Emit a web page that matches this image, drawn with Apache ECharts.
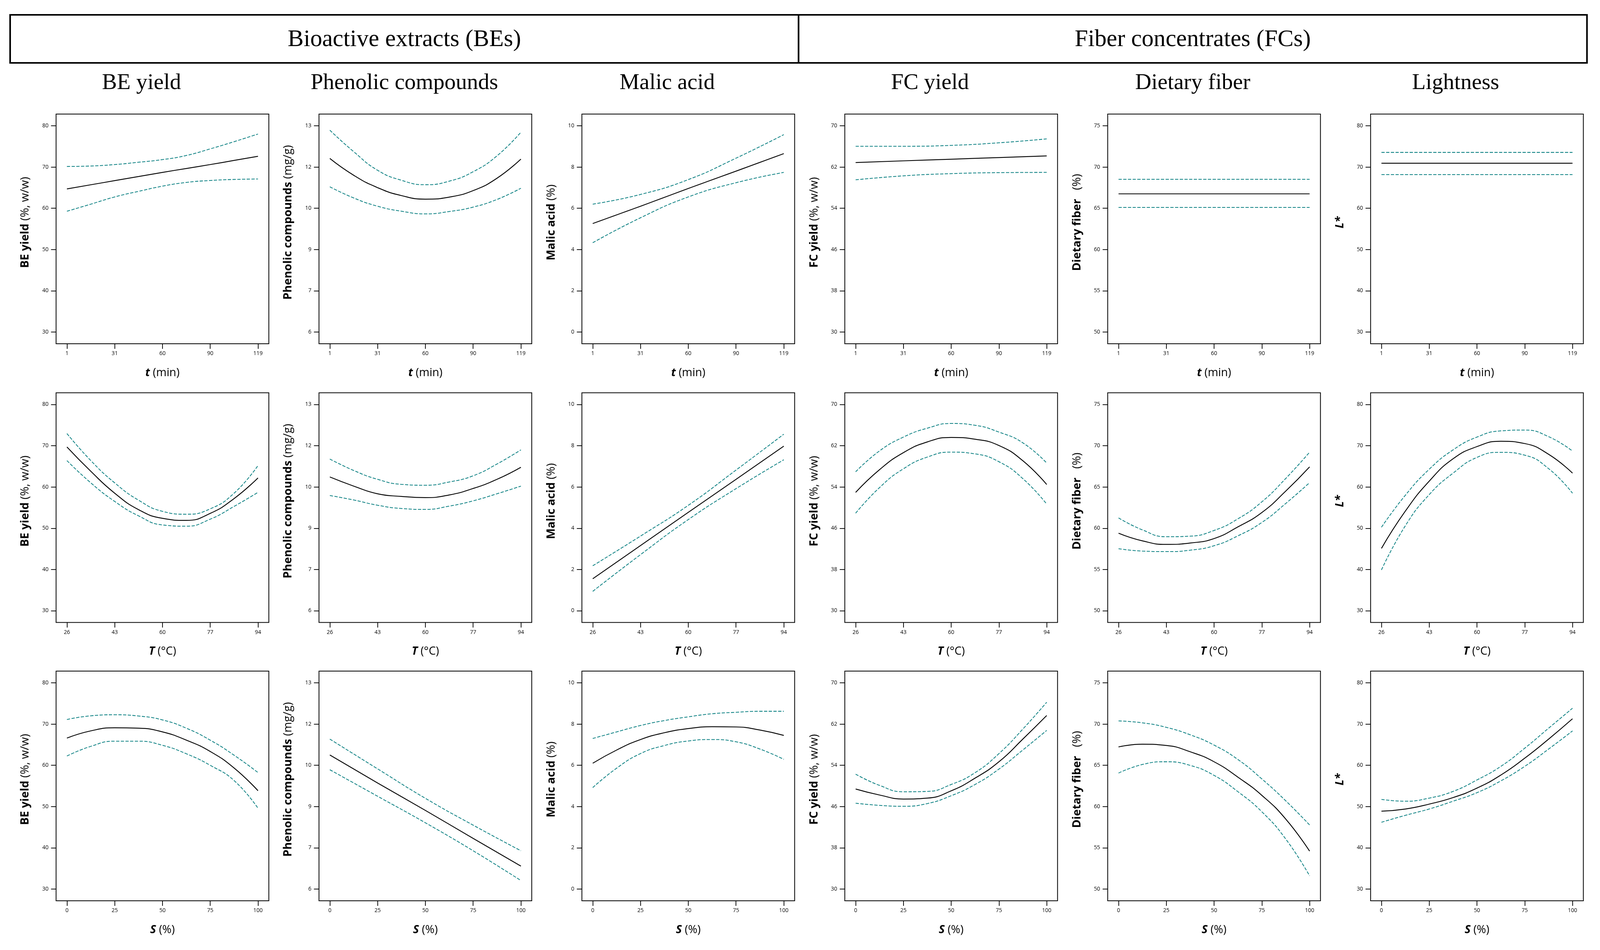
<!DOCTYPE html>
<html>
<head>
<meta charset="utf-8">
<script src="https://cdn.jsdelivr.net/npm/echarts@6/dist/echarts.min.js"></script>
<style>
html,body{margin:0;padding:0;background:#fff;overflow:hidden;}
#c{position:absolute;left:0;top:0;}
</style>
</head>
<body>
<div id="c"></div>
<script>
// ---------- categories / tick labels ----------
const groupTitles = ['Bioactive extracts (BEs)', 'Fiber concentrates (FCs)'];
const colTitles = ['BE yield', 'Phenolic compounds', 'Malic acid', 'FC yield', 'Dietary fiber', 'Lightness'];
const tTicks = [1, 30.5, 60, 89.5, 119];
const TTicks = [26, 43, 60, 77, 94];
const STicks = [0, 25, 50, 75, 100];
const beTicks = [30, 40, 50, 60, 70, 80];
const pcTicks = [6, 7.4, 8.8, 10.2, 11.6, 13];
const maTicks = [0, 2, 4, 6, 8, 10];
const fcTicks = [30, 38, 46, 54, 62, 70];
const dfTicks = [50, 55, 60, 65, 70, 75];
const lTicks = [30, 40, 50, 60, 70, 80];

// ---------- x positions of read values ----------
const tX9 = [1, 15.75, 30.5, 45.25, 60, 74.75, 89.5, 104.25, 119];
const tX5 = [1, 30.5, 60, 89.5, 119];
const TX9 = [26, 34.5, 43, 51.5, 60, 68.5, 77, 85.5, 94];
const TX5 = [26, 43, 60, 77, 94];
const SX9 = [0, 12.5, 25, 37.5, 50, 62.5, 75, 87.5, 100];
const SX5 = [0, 25, 50, 75, 100];

// ---------- row 1: time t ----------
const beT_mean = [64.7, 65.7, 66.7, 67.7, 68.7, 69.65, 70.6, 71.6, 72.6];
const beT_up   = [70.14, 70.25, 70.6, 71.16, 71.8, 72.8, 74.4, 76.15, 78.0];
const beT_lo   = [59.28, 61.0, 62.75, 64.1, 65.36, 66.27, 66.74, 66.99, 67.1];
const pcT_mean = [11.89, 11.32, 10.9, 10.63, 10.51, 10.58, 10.8, 11.22, 11.87];
const pcT_up   = [12.85, 12.12, 11.49, 11.15, 11.0, 11.12, 11.44, 11.98, 12.78];
const pcT_lo   = [10.93, 10.55, 10.27, 10.1, 10.01, 10.09, 10.24, 10.5, 10.88];
const maT_mean = [5.26, 6.1, 6.96, 7.8, 8.65];
const maT_up   = [6.2, 6.67, 7.39, 8.43, 9.57];
const maT_lo   = [4.33, 5.54, 6.55, 7.24, 7.74];
const fcT_mean = [62.87, 63.2, 63.52, 63.84, 64.16];
const fcT_up   = [66.03, 66.03, 66.2, 66.7, 67.46];
const fcT_lo   = [59.52, 60.29, 60.72, 60.91, 60.96];
const dfT_mean = [66.75, 66.75, 66.75, 66.75, 66.75];
const dfT_up   = [68.51, 68.51, 68.51, 68.51, 68.51];
const dfT_lo   = [65.1, 65.1, 65.1, 65.1, 65.1];
const lT_mean  = [70.92, 70.92, 70.92, 70.92, 70.92];
const lT_up    = [73.55, 73.55, 73.55, 73.55, 73.55];
const lT_lo    = [68.17, 68.17, 68.17, 68.17, 68.17];

// ---------- row 2: temperature T ----------
const beTe_mean = [69.7, 63.8, 58.5, 54.5, 52.4, 51.9, 53.6, 57.2, 62.2];
const beTe_up   = [72.95, 66.4, 61.0, 56.8, 54.1, 53.4, 54.7, 58.5, 65.2];
const beTe_lo   = [66.4, 61.0, 56.5, 53.0, 50.8, 50.5, 52.2, 55.3, 58.7];
const pcTe_mean = [10.54, 10.23, 9.97, 9.88, 9.84, 9.93, 10.15, 10.46, 10.87];
const pcTe_up   = [11.15, 10.76, 10.46, 10.29, 10.26, 10.37, 10.58, 10.98, 11.46];
const pcTe_lo   = [9.91, 9.76, 9.58, 9.47, 9.44, 9.55, 9.73, 9.97, 10.23];
const maTe_mean = [1.55, 3.16, 4.77, 6.37, 7.98];
const maTe_up   = [2.18, 3.62, 5.11, 6.82, 8.56];
const maTe_lo   = [0.94, 2.72, 4.42, 5.92, 7.32];
const fcTe_mean = [52.95, 57.36, 60.66, 62.74, 63.61, 63.26, 62.05, 59.1, 54.48];
const fcTe_up   = [56.94, 61.0, 63.68, 65.4, 66.32, 65.97, 64.65, 62.57, 58.65];
const fcTe_lo   = [48.92, 53.89, 57.53, 59.8, 60.76, 60.42, 58.9, 55.63, 50.69];
const dfTe_mean = [59.4, 58.47, 58.04, 58.21, 58.75, 60.17, 61.9, 64.5, 67.44];
const dfTe_up   = [61.25, 59.8, 58.97, 59.04, 59.73, 61.14, 63.2, 66.03, 69.22];
const dfTe_lo   = [57.52, 57.23, 57.17, 57.34, 57.88, 59.08, 60.7, 63.0, 65.53];
const lTe_mean  = [45.12, 54.15, 61.41, 66.84, 69.79, 71.09, 70.53, 67.92, 63.36];
const lTe_up    = [50.24, 58.0, 64.3, 69.0, 72.1, 73.6, 73.8, 72.2, 68.71];
const lTe_lo    = [39.9, 50.6, 58.15, 63.36, 67.18, 68.4, 67.71, 64.45, 58.5];

// ---------- row 3: solvent S ----------
const beS_mean = [66.6, 68.35, 69.1, 69.0, 68.1, 66.1, 63.35, 59.35, 53.85];
const beS_up   = [71.1, 72.0, 72.25, 71.95, 71.0, 69.0, 66.1, 62.45, 58.25];
const beS_lo   = [62.25, 64.6, 65.85, 65.85, 64.85, 62.8, 60.0, 56.3, 49.6];
const pcS_mean = [10.55, 9.6, 8.67, 7.72, 6.78];
const pcS_up   = [11.09, 10.08, 9.08, 8.17, 7.30];
const pcS_lo   = [10.05, 9.15, 8.25, 7.3, 6.29];
const maS_mean = [6.10, 6.74, 7.25, 7.58, 7.78, 7.87, 7.86, 7.71, 7.45];
const maS_up   = [7.30, 7.62, 7.93, 8.17, 8.35, 8.50, 8.57, 8.62, 8.62];
const maS_lo   = [4.92, 5.86, 6.57, 6.96, 7.18, 7.25, 7.14, 6.79, 6.29];
const fcS_mean = [49.40, 48.24, 47.46, 47.64, 49.05, 51.51, 54.68, 59.08, 63.66];
const fcS_up   = [52.29, 50.11, 48.87, 48.94, 50.28, 52.57, 56.27, 61.02, 66.23];
const fcS_lo   = [46.65, 46.23, 46.06, 46.58, 48.1, 50.28, 53.27, 56.97, 60.77];
const dfS_mean = [67.23, 67.56, 67.41, 66.64, 65.43, 63.56, 61.36, 58.49, 54.60];
const dfS_up   = [70.38, 70.15, 69.6, 68.7, 67.45, 65.7, 63.35, 60.7, 57.77];
const dfS_lo   = [64.06, 65.10, 65.43, 64.99, 63.78, 61.80, 59.37, 56.07, 51.61];
const lS_mean  = [48.88, 49.41, 50.60, 52.18, 54.47, 57.64, 61.73, 66.36, 71.29];
const lS_up    = [51.74, 51.30, 52.05, 53.68, 56.45, 59.75, 64.15, 69.0, 73.84];
const lS_lo    = [46.20, 47.87, 49.41, 51.30, 53.37, 56.23, 59.75, 63.94, 68.34];

// ---------- axis names ----------
const xNames = ['{bi|t}{n| (min)}', '{bi|T}{n| (°C)}', '{bi|S}{n| (%)}'];
const yNames = ['{b|BE yield}{n| (%, w/w)}', '{b|Phenolic compounds}{n| (mg/g)}', '{b|Malic acid}{n| (%)}',
                '{b|FC yield}{n| (%, w/w)}', '{b|Dietary fiber}{n|   (%)}', '{bi|L*}'];
const yTickSets = [beTicks, pcTicks, maTicks, fcTicks, dfTicks, lTicks];
const xTickSets = [tTicks, TTicks, STicks];

const panels = [
  [[tX9, beT_mean, beT_up, beT_lo], [tX9, pcT_mean, pcT_up, pcT_lo], [tX5, maT_mean, maT_up, maT_lo],
   [tX5, fcT_mean, fcT_up, fcT_lo], [tX5, dfT_mean, dfT_up, dfT_lo], [tX5, lT_mean, lT_up, lT_lo]],
  [[TX9, beTe_mean, beTe_up, beTe_lo], [TX9, pcTe_mean, pcTe_up, pcTe_lo], [TX5, maTe_mean, maTe_up, maTe_lo],
   [TX9, fcTe_mean, fcTe_up, fcTe_lo], [TX9, dfTe_mean, dfTe_up, dfTe_lo], [TX9, lTe_mean, lTe_up, lTe_lo]],
  [[SX9, beS_mean, beS_up, beS_lo], [SX5, pcS_mean, pcS_up, pcS_lo], [SX9, maS_mean, maS_up, maS_lo],
   [SX9, fcS_mean, fcS_up, fcS_lo], [SX9, dfS_mean, dfS_up, dfS_lo], [SX9, lS_mean, lS_up, lS_lo]]
];

// ---------- layout (reference pixels, scaled to the real viewport) ----------
const REF_W = 4422, REF_H = 2432;
const VW = window.innerWidth || REF_W, VH = window.innerHeight || REF_H;
const sx = VW / REF_W, sy = VH / REF_H, s = Math.min(sx, sy);
const X = v => v * sx, Y = v => v * sy, F = v => v * s;

const PAD = 30 / 528;
const GRID_LEFT0 = 155, COL_PITCH = 726.6, GRID_SIZE = 588;
const ROW_TOPS = [292, 1005.5, 1718];
const BOX_L = 28, BOX_R = 4386, BOX_T = 38, BOX_B = 161, DIV_X = 2207;
const TEAL = '#138486';
const AX_FONT = 'Open Sans';

const el = document.getElementById('c');
el.style.width = VW + 'px';
el.style.height = VH + 'px';

const mkRich = fs => ({
  b:  {fontFamily: AX_FONT, fontSize: F(fs), fontWeight: 'bold', color: '#000'},
  bi: {fontFamily: AX_FONT, fontSize: F(fs), fontWeight: 'bold', fontStyle: 'italic', color: '#000'},
  n:  {fontFamily: AX_FONT, fontSize: F(fs), color: '#000'}
});
const richX = mkRich(31), richY = mkRich(31.5);
const pair = (xs, ys) => xs.map((x, i) => [x, ys[i]]);
const fmt = v => String(Math.round(v));

const grid = [], xAxis = [], yAxis = [], series = [];
let gi = 0;
for (let r = 0; r < 3; r++) {
  for (let c = 0; c < 6; c++) {
    grid.push({left: X(GRID_LEFT0 + COL_PITCH * c), top: Y(ROW_TOPS[r]), width: X(GRID_SIZE), height: Y(GRID_SIZE),
      show: true, borderColor: '#000', borderWidth: F(2.2), backgroundColor: 'transparent'});
    const xt = xTickSets[r], yt = yTickSets[c];
    const xr = xt[xt.length - 1] - xt[0], yr = yt[yt.length - 1] - yt[0];
    xAxis.push({
      gridIndex: gi, type: 'value', min: xt[0] - PAD * xr, max: xt[xt.length - 1] + PAD * xr,
      axisLine: {show: false, onZero: false},
      axisTick: {show: true, length: F(14), lineStyle: {color: '#000', width: F(2)}, customValues: xt},
      axisLabel: {customValues: xt, formatter: fmt, fontFamily: AX_FONT, fontSize: F(15), color: '#000', margin: F(20)},
      splitLine: {show: false},
      name: xNames[r], nameLocation: 'middle', nameGap: F(65),
      nameTextStyle: {fontFamily: AX_FONT, fontSize: F(31), color: '#000', rich: richX}
    });
    yAxis.push({
      gridIndex: gi, type: 'value', min: yt[0] - PAD * yr, max: yt[yt.length - 1] + PAD * yr,
      axisLine: {show: false, onZero: false},
      axisTick: {show: true, length: F(14), lineStyle: {color: '#000', width: F(2)}, customValues: yt},
      axisLabel: {customValues: yt, formatter: fmt, fontFamily: AX_FONT, fontSize: F(15), color: '#000', margin: F(21)},
      splitLine: {show: false},
      name: yNames[c], nameLocation: 'middle', nameGap: F(69),
      nameTextStyle: {fontFamily: AX_FONT, fontSize: F(31.5), color: '#000', rich: richY, padding: [0, 0, 0, F(36)]}
    });
    const [xs, mean, up, lo] = panels[r][c];
    const common = {type: 'line', xAxisIndex: gi, yAxisIndex: gi, showSymbol: false, symbol: 'none',
      smooth: 0.5, animation: false, silent: true};
    series.push(Object.assign({}, common, {data: pair(xs, up), lineStyle: {color: TEAL, width: F(2.2), type: [F(9), F(4)]}}));
    series.push(Object.assign({}, common, {data: pair(xs, lo), lineStyle: {color: TEAL, width: F(2.2), type: [F(9), F(4)]}}));
    series.push(Object.assign({}, common, {data: pair(xs, mean), lineStyle: {color: '#000', width: F(2.4)}}));
    gi++;
  }
}

const graphic = [
  {type: 'rect', shape: {x: X(BOX_L), y: Y(BOX_T), width: X(BOX_R - BOX_L), height: Y(BOX_B - BOX_T)},
   style: {fill: 'none', stroke: '#000', lineWidth: F(4.5)}, silent: true},
  {type: 'line', shape: {x1: X(DIV_X), y1: Y(BOX_T), x2: X(DIV_X), y2: Y(BOX_B)},
   style: {stroke: '#000', lineWidth: F(4.5)}, silent: true},
  {type: 'text', x: X((BOX_L + DIV_X) / 2), y: Y(102),
   style: {text: groupTitles[0], font: F(66) + 'px "Liberation Serif"', fill: '#000', textAlign: 'center', textVerticalAlign: 'middle'}},
  {type: 'text', x: X((DIV_X + BOX_R) / 2), y: Y(102),
   style: {text: groupTitles[1], font: F(66) + 'px "Liberation Serif"', fill: '#000', textAlign: 'center', textVerticalAlign: 'middle'}}
];
const colW = (BOX_R - BOX_L) / 6;
colTitles.forEach((t, i) => {
  graphic.push({type: 'text', x: X(BOX_L + colW * (i + 0.5)), y: Y(213),
    style: {text: t, font: F(62) + 'px "Liberation Serif"', fill: '#000', textAlign: 'center', textVerticalAlign: 'middle'}});
});

const chart = echarts.init(el, null, {renderer: 'canvas', width: VW, height: VH});
chart.setOption({
  backgroundColor: '#fff',
  animation: false,
  grid, xAxis, yAxis, series, graphic
});
</script>
</body>
</html>
